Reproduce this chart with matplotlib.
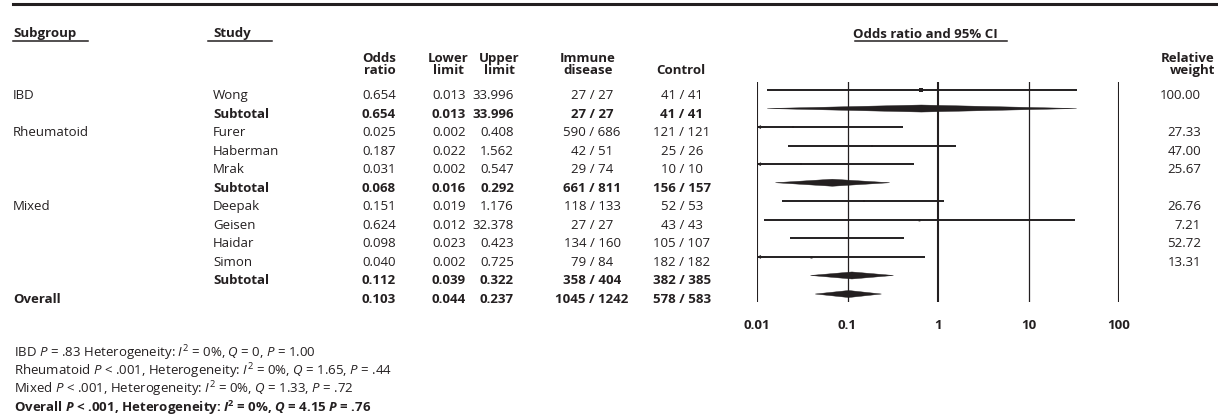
import matplotlib
matplotlib.use("Agg")
import matplotlib.pyplot as plt
import matplotlib.transforms as mtransforms
from matplotlib.lines import Line2D
from matplotlib.patches import Polygon

# ---- data ----
subgroups = ['IBD', '', 'Rheumatoid', '', '', '', 'Mixed', '', '', '', '', 'Overall']
studies = ['Wong', 'Subtotal', 'Furer', 'Haberman', 'Mrak', 'Subtotal',
           'Deepak', 'Geisen', 'Haidar', 'Simon', 'Subtotal', '']
row_kind = ['study', 'sub', 'study', 'study', 'study', 'sub',
            'study', 'study', 'study', 'study', 'sub', 'overall']
odds_ratio = [0.654, 0.654, 0.025, 0.187, 0.031, 0.068, 0.151, 0.624, 0.098, 0.040, 0.112, 0.103]
lower_limit = [0.013, 0.013, 0.002, 0.022, 0.002, 0.016, 0.019, 0.012, 0.023, 0.002, 0.039, 0.044]
upper_limit = [33.996, 33.996, 0.408, 1.562, 0.547, 0.292, 1.176, 32.378, 0.423, 0.725, 0.322, 0.237]
immune = ['27 / 27', '27 / 27', '590 / 686', '42 / 51', '29 / 74', '661 / 811',
          '118 / 133', '27 / 27', '134 / 160', '79 / 84', '358 / 404', '1045 / 1242']
control = ['41 / 41', '41 / 41', '121 / 121', '25 / 26', '10 / 10', '156 / 157',
           '52 / 53', '43 / 43', '105 / 107', '182 / 182', '382 / 385', '578 / 583']
rel_weight = [100.00, None, 27.33, 47.00, 25.67, None, 26.76, 7.21, 52.72, 13.31, None, None]
x_ticks = [0.01, 0.1, 1, 10, 100]
x_tick_labels = ['0.01', '0.1', '1', '10', '100']
footnotes = [
    r'IBD $\mathit{P}$ = .83 Heterogeneity: $\mathit{I}^2$ = 0%, $\mathit{Q}$ = 0, $\mathit{P}$ = 1.00',
    r'Rheumatoid $\mathit{P}$ < .001, Heterogeneity: $\mathit{I}^2$ = 0%, $\mathit{Q}$ = 1.65, $\mathit{P}$ = .44',
    r'Mixed $\mathit{P}$ < .001, Heterogeneity: $\mathit{I}^2$ = 0%, $\mathit{Q}$ = 1.33, $\mathit{P}$ = .72',
    r'Overall $\mathbfit{P}$ < .001, Heterogeneity: $\mathbfit{I}^\mathbf{2}$ = 0%, $\mathbfit{Q}$ = 4.15 $\mathbfit{P}$ = .76',
]

fam = 'Open Sans'
plt.rcParams['font.family'] = fam
plt.rcParams['mathtext.fontset'] = 'custom'
plt.rcParams['mathtext.rm'] = fam
plt.rcParams['mathtext.it'] = fam + ':italic'
plt.rcParams['mathtext.bf'] = fam + ':bold'
plt.rcParams['mathtext.bfit'] = fam + ':italic:bold'

ink = '#231f20'
fs = 9.5
W, H = 1218, 420
fig = plt.figure(figsize=(W / 100, H / 100), dpi=100)

# forest panel
ax = fig.add_axes([757 / W, (H - 302) / H, (1119 - 757) / W, (302 - 82) / H])
ax.set_xscale('log')
ax.set_xlim(0.01, 100)
n = len(studies)
ax.set_ylim(n - 1 + 0.43, -0.43)
for s in ax.spines.values():
    s.set_visible(False)
ax.set_xticks([])
ax.set_yticks([])
ax.minorticks_off()
ax.patch.set_alpha(0)

for t in x_ticks:
    ax.axvline(t, color=ink, lw=1.5 if t in (0.01, 1, 100) else 0.9, zorder=1)

for i in range(n):
    lo, hi, est = lower_limit[i], upper_limit[i], odds_ratio[i]
    if row_kind[i] == 'study':
        ax.hlines(i, max(lo, 0.01), min(hi, 100), color=ink, lw=1.4, zorder=2)
        w = rel_weight[i]
        ax.plot(est, i, 's', color=ink, ms=1.2 + 1.8 * w / 100, mew=0, zorder=3)
        if lo < 0.01:
            ax.annotate('', xy=(0.01, i), xytext=(0.0125, i),
                        arrowprops=dict(arrowstyle='->', color=ink, lw=0.6,
                                        mutation_scale=5, shrinkA=0, shrinkB=0))
    else:
        dh = 0.19
        ax.add_patch(Polygon([[lo, i], [est, i - dh], [hi, i], [est, i + dh]],
                             closed=True, fc=ink, ec=ink, lw=0.3, zorder=3))

# pixel-from-top transform for layout text
pix = mtransforms.Affine2D().scale(1.0 / W, -1.0 / H).translate(0, 1) + fig.transFigure
row_tr = mtransforms.blended_transform_factory(pix, ax.transData) + \
    mtransforms.ScaledTranslation(0, -9 / 100, fig.dpi_scale_trans)
tick_tr = mtransforms.blended_transform_factory(ax.transData, pix)

for t, lab in zip(x_ticks, x_tick_labels):
    ax.text(t, 329, lab, transform=tick_tr, ha='center', va='baseline',
            fontsize=fs, fontweight='bold', color=ink)


def txt(x, y, s, ha='left', bold=False, tr=pix, **kw):
    fig.text(x, y, s, transform=tr, ha=ha, va='baseline', fontsize=fs,
             fontweight='bold' if bold else 'normal', color=ink, **kw)


for i in range(n):
    bold = row_kind[i] != 'study'
    if subgroups[i]:
        txt(13, i, subgroups[i], bold=row_kind[i] == 'overall', tr=row_tr)
    if studies[i]:
        txt(213, i, studies[i], bold=bold, tr=row_tr)
    txt(396, i, f'{odds_ratio[i]:.3f}', 'right', bold, row_tr)
    txt(466, i, f'{lower_limit[i]:.3f}', 'right', bold, row_tr)
    txt(514, i, f'{upper_limit[i]:.3f}', 'right', bold, row_tr)
    txt(592, i, immune[i], 'center', bold, row_tr)
    txt(682, i, control[i], 'center', bold, row_tr)
    if rel_weight[i] is not None:
        txt(1201, i, f'{rel_weight[i]:.2f}', 'right', bold, row_tr)

# headers
txt(13, 37, 'Subgroup', bold=True)
txt(213, 37, 'Study', bold=True)
txt(925, 38, 'Odds ratio and 95% CI', 'center', True)
txt(396, 62, 'Odds', 'right', True)
txt(396, 74, 'ratio', 'right', True)
txt(448, 62, 'Lower', 'center', True)
txt(448, 74, 'limit', 'center', True)
txt(499, 62, 'Upper', 'center', True)
txt(499, 74, 'limit', 'center', True)
txt(588, 62, 'Immune', 'center', True)
txt(588, 74, 'disease', 'center', True)
txt(681, 74, 'Control', 'center', True)
txt(1215, 62, 'Relative', 'right', True)
txt(1215, 74, 'weight', 'right', True)

# rules
fig.add_artist(Line2D([13, W], [4, 4], transform=pix, color=ink, lw=2.2))
for x0, x1 in [(13, 88), (208, 272), (855, 1007)]:
    fig.add_artist(Line2D([x0, x1], [41, 41], transform=pix, color=ink, lw=1.1))

for k, line in enumerate(footnotes):
    txt(14, 357 + 18.3 * k, line, bold=(k == len(footnotes) - 1))

fig.savefig('out.png', dpi=100)
